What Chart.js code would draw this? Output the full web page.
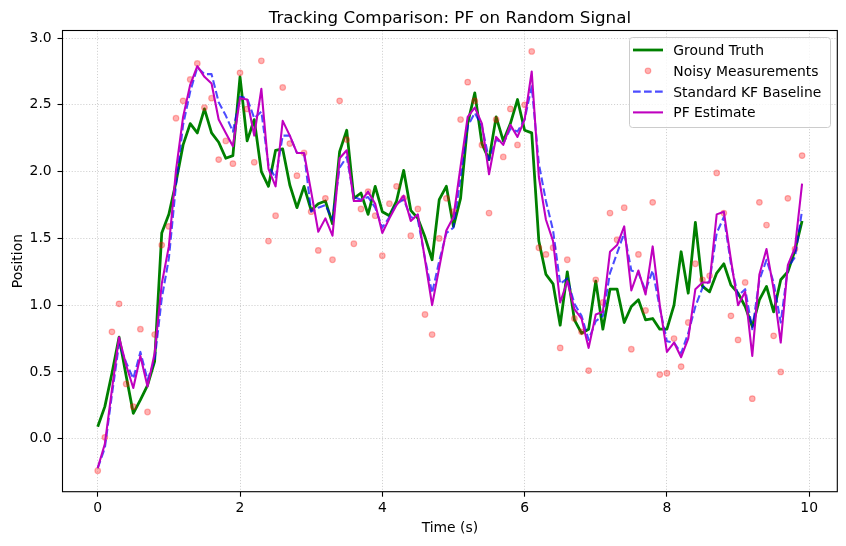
<!DOCTYPE html>
<html><head><meta charset="utf-8">
<script src="https://cdn.jsdelivr.net/npm/chart.js@4/dist/chart.umd.min.js"></script>
<style>html,body{margin:0;padding:0;background:#fff;overflow:hidden}canvas{display:block}</style>
</head><body>
<canvas id="c" width="846" height="546"></canvas>
<script>
const times = [0.0,0.1,0.2,0.3,0.4,0.5,0.6,0.7,0.8,0.9,1.0,1.1,1.2,1.3,1.4,1.5,1.6,1.7,1.8,1.9,
  2.0,2.1,2.2,2.3,2.4,2.5,2.6,2.7,2.8,2.9,3.0,3.1,3.2,3.3,3.4,3.5,3.6,3.7,3.8,3.9,
  4.0,4.1,4.2,4.3,4.4,4.5,4.6,4.7,4.8,4.9,5.0,5.1,5.2,5.3,5.4,5.5,5.6,5.7,5.8,5.9,
  6.0,6.1,6.2,6.3,6.4,6.5,6.6,6.7,6.8,6.9,7.0,7.1,7.2,7.3,7.4,7.5,7.6,7.7,7.8,7.9,
  8.0,8.1,8.2,8.3,8.4,8.5,8.6,8.7,8.8,8.9,9.0,9.1,9.2,9.3,9.4,9.5,9.6,9.7,9.8,9.9];
const groundTruth = [0.09,0.24,0.49,0.76,0.47,0.19,0.29,0.40,0.58,1.54,
  1.68,1.92,2.20,2.36,2.29,2.47,2.29,2.22,2.10,2.12,
  2.71,2.23,2.39,2.00,1.89,2.16,2.17,1.90,1.73,1.89,
  1.71,1.76,1.78,1.61,2.15,2.31,1.80,1.84,1.68,1.89,
  1.70,1.67,1.78,2.01,1.71,1.65,1.51,1.34,1.79,1.89,
  1.59,1.80,2.36,2.59,2.21,2.09,2.41,2.23,2.36,2.54,
  2.31,2.29,1.48,1.23,1.16,0.85,1.25,0.89,0.79,0.82,
  1.18,0.82,1.12,1.12,0.87,0.99,1.04,0.89,0.90,0.82,
  0.82,1.00,1.40,1.09,1.62,1.14,1.10,1.24,1.31,1.15,
  1.09,0.99,0.84,1.04,1.14,0.95,1.19,1.25,1.41,1.63];
const measurements = [-0.24,0.01,0.80,1.01,0.41,0.24,0.82,0.20,0.78,1.45,
  1.59,2.40,2.53,2.69,2.81,2.48,2.55,2.09,2.23,2.06,
  2.74,2.47,2.07,2.83,1.48,1.67,2.63,2.21,1.97,2.14,
  1.70,1.41,1.80,1.34,2.53,2.24,1.46,1.72,1.85,1.67,
  1.37,1.76,1.89,1.80,1.52,1.72,0.93,0.78,1.50,1.80,
  1.70,2.39,2.67,2.53,2.20,1.69,2.39,2.11,2.47,2.20,
  2.50,2.90,1.43,1.38,1.43,0.68,1.34,0.90,0.80,0.51,
  1.19,1.02,1.69,1.49,1.73,0.67,1.38,0.96,1.77,0.48,
  0.49,0.75,0.54,0.87,1.31,1.19,1.22,1.99,1.69,0.92,
  0.74,1.17,0.30,1.77,1.60,0.77,0.50,1.80,1.42,2.12];
const kfBaseline = [-0.22,-0.07,0.33,0.71,0.57,0.45,0.65,0.44,0.59,1.05,
  1.35,1.90,2.35,2.60,2.78,2.73,2.73,2.52,2.42,2.30,
  2.56,2.55,2.40,2.45,2.05,1.95,2.27,2.27,2.14,2.14,
  1.70,1.73,1.75,1.64,2.03,2.11,1.81,1.79,1.81,1.73,
  1.58,1.66,1.76,1.79,1.66,1.64,1.35,1.09,1.33,1.54,
  1.58,1.96,2.34,2.44,2.34,2.09,2.24,2.21,2.32,2.30,
  2.39,2.64,2.06,1.78,1.56,1.16,1.20,1.01,0.92,0.74,
  0.88,0.92,1.24,1.39,1.54,1.26,1.24,1.11,1.26,0.98,
  0.73,0.72,0.64,0.79,0.99,1.13,1.18,1.54,1.66,1.31,
  1.07,1.12,0.82,1.19,1.34,1.17,0.87,1.28,1.36,1.71];
const pfEstimate = [-0.22,-0.04,0.37,0.76,0.55,0.38,0.62,0.39,0.64,1.16,
  1.44,2.01,2.41,2.65,2.79,2.71,2.66,2.39,2.29,2.19,
  2.55,2.54,2.27,2.62,2.02,1.89,2.38,2.27,2.14,2.14,
  1.85,1.55,1.65,1.52,2.10,2.16,1.78,1.78,1.85,1.76,
  1.54,1.65,1.75,1.82,1.63,1.68,1.34,1.00,1.28,1.56,
  1.66,2.04,2.41,2.48,2.36,1.98,2.26,2.20,2.35,2.26,
  2.39,2.75,1.96,1.64,1.48,1.02,1.18,0.97,0.90,0.68,
  0.93,0.95,1.40,1.45,1.59,1.11,1.26,1.08,1.44,1.00,
  0.65,0.72,0.61,0.75,1.12,1.17,1.17,1.68,1.70,1.34,
  1.00,1.10,0.62,1.23,1.42,1.12,0.72,1.30,1.43,1.91];
const xTicks = [0,2,4,6,8,10];
const yTicks = [0,0.5,1,1.5,2,2.5,3];
const seriesLabels = ['Ground Truth','Noisy Measurements','Standard KF Baseline','PF Estimate'];
const titleText = 'Tracking Comparison: PF on Random Signal';
const xAxisLabel = 'Time (s)';
const yAxisLabel = 'Position';

const FONT = "'DejaVu Sans', 'Liberation Sans', sans-serif";
const C_GT = '#008000', C_MEAS = 'rgba(255,0,0,0.3)', C_KF = 'rgba(0,0,255,0.7)', C_PF = '#bf00bf';
const pts = arr => times.map((t, i) => ({x: t, y: arr[i]}));

const decor = {
  id: 'decor',
  afterDatasetsDraw(chart) {
    const {ctx, chartArea: a} = chart;
    ctx.save();
    ctx.strokeStyle = '#000'; ctx.lineWidth = 1.1;
    ctx.strokeRect(a.left, a.top, a.right - a.left, a.bottom - a.top);
    ctx.restore();
  },
  afterDraw(chart) {
    const {ctx, chartArea: a} = chart;
    const cx = (a.left + a.right) / 2, cy = (a.top + a.bottom) / 2;
    ctx.save();
    ctx.fillStyle = '#000';
    ctx.textAlign = 'center'; ctx.textBaseline = 'alphabetic';
    ctx.font = '16.7px ' + FONT;
    ctx.fillText(titleText, cx, 22.5);
    ctx.font = '13.9px ' + FONT;
    ctx.fillText(xAxisLabel, cx, 531.8);
    ctx.save();
    ctx.translate(21.7, cy); ctx.rotate(-Math.PI / 2);
    ctx.fillText(yAxisLabel, 0, 0);
    ctx.restore();
    // legend
    const L = {x: 629.5, y: 37.5, w: 201, h: 90, r: 3};
    ctx.beginPath();
    ctx.roundRect(L.x, L.y, L.w, L.h, L.r);
    ctx.fillStyle = 'rgba(255,255,255,0.8)'; ctx.fill();
    ctx.strokeStyle = '#cccccc'; ctx.lineWidth = 1; ctx.stroke();
    const base = [55, 75.8, 96.6, 117.4];
    const hx0 = 633, hx1 = 663, tx = 673.3;
    base.forEach((b, i) => {
      const hy = b - 5;
      ctx.save();
      if (i === 1) {
        ctx.beginPath(); ctx.arc((hx0 + hx1) / 2, hy, 2.8, 0, Math.PI * 2);
        ctx.fillStyle = C_MEAS; ctx.fill();
        ctx.strokeStyle = C_MEAS; ctx.lineWidth = 1.2; ctx.stroke();
      } else {
        ctx.beginPath(); ctx.moveTo(hx0, hy); ctx.lineTo(hx1, hy);
        ctx.strokeStyle = i === 0 ? C_GT : (i === 2 ? C_KF : C_PF);
        ctx.lineWidth = i === 0 ? 2.78 : 2.08;
        if (i === 2) ctx.setLineDash([7.7, 3.3]);
        ctx.stroke();
      }
      ctx.restore();
      ctx.fillStyle = '#000'; ctx.textAlign = 'left';
      ctx.fillText(seriesLabels[i], tx, b);
    });
    ctx.restore();
  }
};

const gridCommon = {color: 'rgba(176,176,176,0.75)', lineWidth: 0.8, drawTicks: true, tickLength: 5, tickColor: '#000', tickWidth: 1.1};

new Chart(document.getElementById('c').getContext('2d'), {
  type: 'line',
  data: {
    datasets: [
      {label: seriesLabels[0], data: pts(groundTruth), borderColor: C_GT, borderWidth: 2.78, pointRadius: 0, tension: 0, borderJoinStyle: 'round', order: 4},
      {label: seriesLabels[1], data: pts(measurements), showLine: false, pointRadius: 2.8, pointBorderWidth: 1.2, pointBackgroundColor: C_MEAS, pointBorderColor: C_MEAS, backgroundColor: C_MEAS, borderColor: C_MEAS, order: 3},
      {label: seriesLabels[2], data: pts(kfBaseline), borderColor: C_KF, borderWidth: 2.08, borderDash: [7.7, 3.3], pointRadius: 0, tension: 0, borderJoinStyle: 'round', order: 2},
      {label: seriesLabels[3], data: pts(pfEstimate), borderColor: C_PF, borderWidth: 2.08, pointRadius: 0, tension: 0, borderJoinStyle: 'round', order: 1}
    ]
  },
  options: {
    responsive: false, animation: false, devicePixelRatio: 1,
    layout: {padding: {left: 0, top: 30.5, right: 8.7, bottom: 0}},
    plugins: {legend: {display: false}, title: {display: false}, tooltip: {enabled: false}},
    scales: {
      x: {
        type: 'linear', min: -0.495, max: 10.395,
        afterBuildTicks: s => { s.ticks = xTicks.map(v => ({value: v})); },
        afterFit: s => { s.height = 54.3; },
        ticks: {font: {family: FONT, size: 13.9}, color: '#000', padding: 3, maxRotation: 0, callback: v => String(v)},
        grid: gridCommon,
        border: {display: false, dash: [1.1, 1.8]}
      },
      y: {
        type: 'linear', min: -0.397, max: 3.057,
        afterBuildTicks: s => { s.ticks = yTicks.map(v => ({value: v})); },
        afterFit: s => { s.width = 62.5; },
        ticks: {font: {family: FONT, size: 13.9}, color: '#000', padding: 5.8, callback: v => v.toFixed(1)},
        grid: gridCommon,
        border: {display: false, dash: [1.1, 1.8]}
      }
    }
  },
  plugins: [decor]
});
</script>
</body></html>
